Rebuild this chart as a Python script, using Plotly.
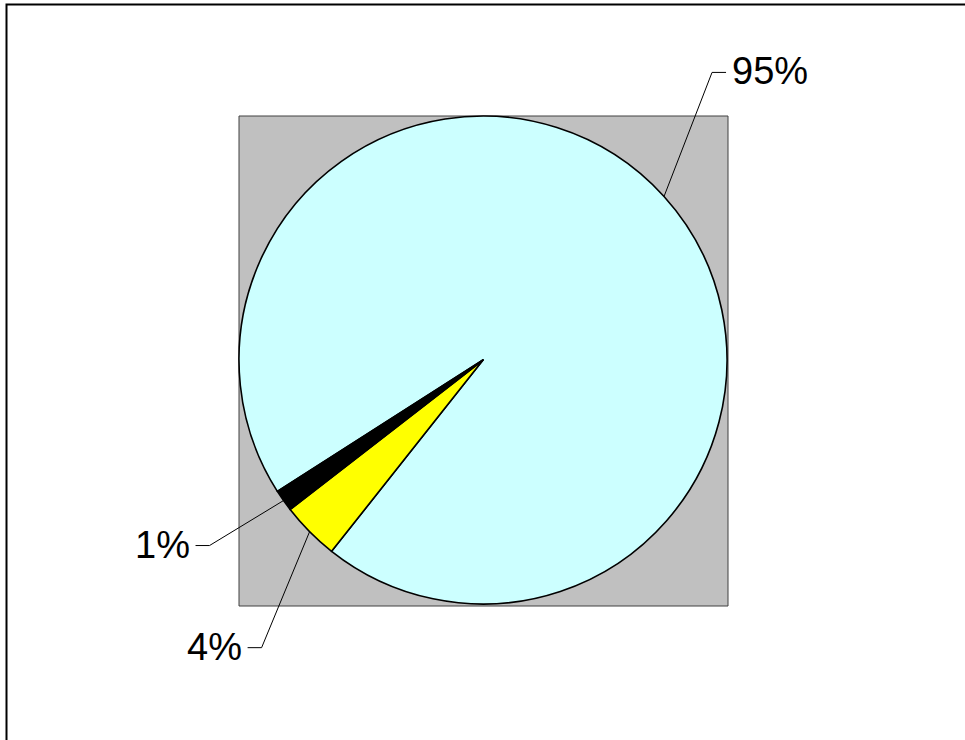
import math
import plotly.graph_objects as go

# ---- data ----
slice_names = ["Share A", "Share B", "Share C"]
slice_values = [94.7, 3.85, 1.45]

# ---- style ----
slice_colors = ["#CCFFFF", "#FFFF00", "#000000"]
# leader-line elbow offsets (px) from slice edge point, and horizontal tail length (px)
label_elbow = [(48, -124), (-48, 116), (-74, 45)]
label_tail = [14, -14, -14]

W, H = 965, 740
cx, cy, R = 483, 360, 244
rotation = 237.44


def px(x):
    return x / W


def py(y):
    return 1 - y / H


fig = go.Figure(
    go.Pie(
        labels=slice_names,
        values=slice_values,
        sort=False,
        direction="clockwise",
        rotation=rotation,
        textinfo="none",
        hoverinfo="label+percent",
        marker=dict(colors=slice_colors, line=dict(color="#000000", width=1.6)),
        domain=dict(x=[px(cx - R), px(cx + R)], y=[py(cy + R), py(cy - R)]),
        showlegend=False,
    )
)

shapes = []
# grey plot-area square behind the pie
shapes.append(
    dict(
        type="rect", xref="paper", yref="paper", layer="below",
        x0=px(cx - R), x1=px(cx + R + 1), y0=py(cy + R + 2), y1=py(cy - R),
        fillcolor="#C0C0C0", line=dict(color="#404040", width=1),
    )
)
# outer chart frame
shapes.append(
    dict(
        type="rect", xref="paper", yref="paper", layer="below",
        x0=px(6.5), x1=px(W + 20), y0=py(H + 20), y1=py(4.5),
        fillcolor="rgba(0,0,0,0)", line=dict(color="#000000", width=2),
    )
)

annotations = []
total = sum(slice_values)
start = rotation
for i, v in enumerate(slice_values):
    frac = v / total
    mid = math.radians(start + frac * 180)
    start += frac * 360
    sx = cx + R * math.sin(mid)
    sy = cy - R * math.cos(mid)
    ex = sx + label_elbow[i][0]
    ey = sy + label_elbow[i][1]
    tx = ex + label_tail[i]
    path = f"M {px(sx)},{py(sy)} L {px(ex)},{py(ey)} L {px(tx)},{py(ey)}"
    shapes.append(
        dict(type="path", xref="paper", yref="paper", path=path,
             line=dict(color="#000000", width=1))
    )
    annotations.append(
        dict(
            xref="paper", yref="paper",
            x=px(tx + (4 if label_tail[i] > 0 else -4)), y=py(ey - 1),
            xanchor="left" if label_tail[i] > 0 else "right", yanchor="middle",
            text=f"{round(frac * 100)}%", showarrow=False,
            font=dict(family="Liberation Sans, Arial, sans-serif", size=38, color="#000000"),
        )
    )

fig.update_layout(
    width=W, height=H,
    margin=dict(l=0, r=0, t=0, b=0),
    paper_bgcolor="#FFFFFF", plot_bgcolor="#FFFFFF",
    shapes=shapes, annotations=annotations,
)

fig.write_html(
    "out.html",
    config={"displayModeBar": False},
    post_script="document.body.style.margin='0px';document.body.style.overflow='hidden';",
)
